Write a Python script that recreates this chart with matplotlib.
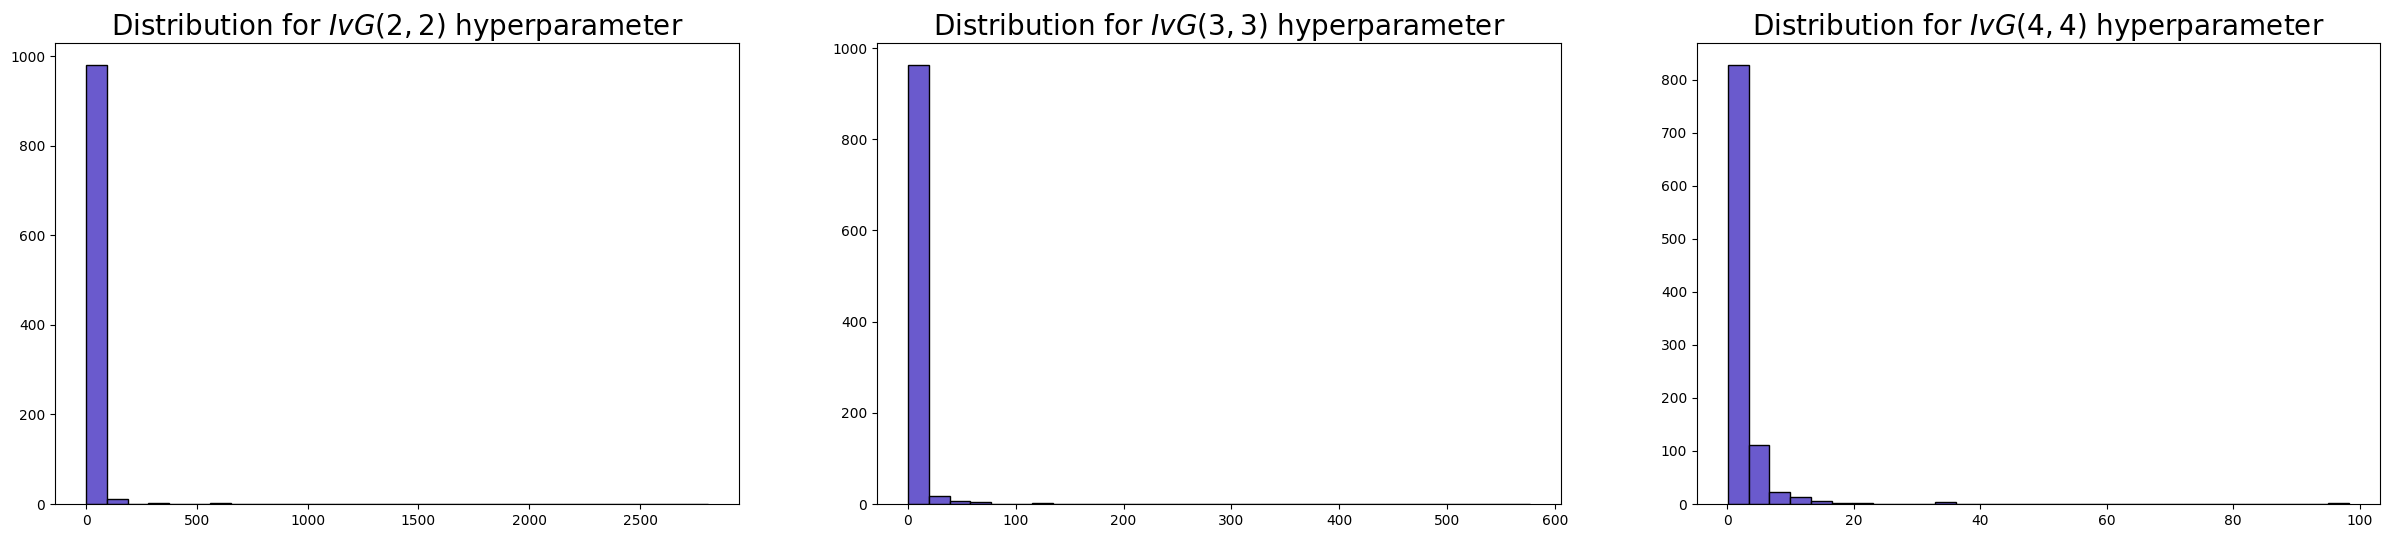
"""
Histograms of sampled IvG hyperparameters, one panel per (alpha, beta) setting.
"""

import numpy as np
import matplotlib.pyplot as plt

# 30 equal-width bins per panel, spanning (low, high)
titles = [
    "Distribution for $IvG(2,2)$ hyperparameter",
    "Distribution for $IvG(3,3)$ hyperparameter",
    "Distribution for $IvG(4,4)$ hyperparameter",
]
ranges = [(0.05, 2806.0), (0.1, 577.0), (0.15, 98.3)]

counts_22 = [981, 11, 0, 2, 0, 0, 2, 0, 0, 0,
             0, 0, 0, 0, 0, 0, 0, 0, 0, 0,
             0, 0, 0, 0, 0, 0, 0, 0, 0, 1]
counts_33 = [963, 17, 7, 5, 0, 0, 2, 0, 0, 0,
             0, 0, 0, 0, 0, 0, 0, 0, 0, 0,
             0, 0, 0, 0, 0, 0, 0, 0, 0, 1]
counts_44 = [828, 111, 22, 13, 6, 2, 2, 0, 0, 0,
             4, 0, 0, 0, 0, 0, 0, 0, 0, 0,
             0, 0, 0, 0, 0, 0, 0, 0, 0, 1]
all_counts = [counts_22, counts_33, counts_44]

BAR_COLOR = "#6a5acd"  # slateblue

fig = plt.figure(figsize=(23.9, 5.38), dpi=100)

W, H = 2390, 538
boxes = [(55, 739), (877, 1561), (1697, 2380)]
top, bottom = 43, 504

for (x0, x1), title, (lo, hi), counts in zip(boxes, titles, ranges, all_counts):
    ax = fig.add_axes([x0 / W, (H - bottom) / H, (x1 - x0) / W, (bottom - top) / H])
    edges = np.linspace(lo, hi, len(counts) + 1)
    centers = 0.5 * (edges[:-1] + edges[1:])
    ax.hist(centers, bins=edges, weights=counts,
            color=BAR_COLOR, edgecolor="black", linewidth=1)
    ax.set_title(title, fontsize=20)

fig.savefig("out.png", dpi=100)
